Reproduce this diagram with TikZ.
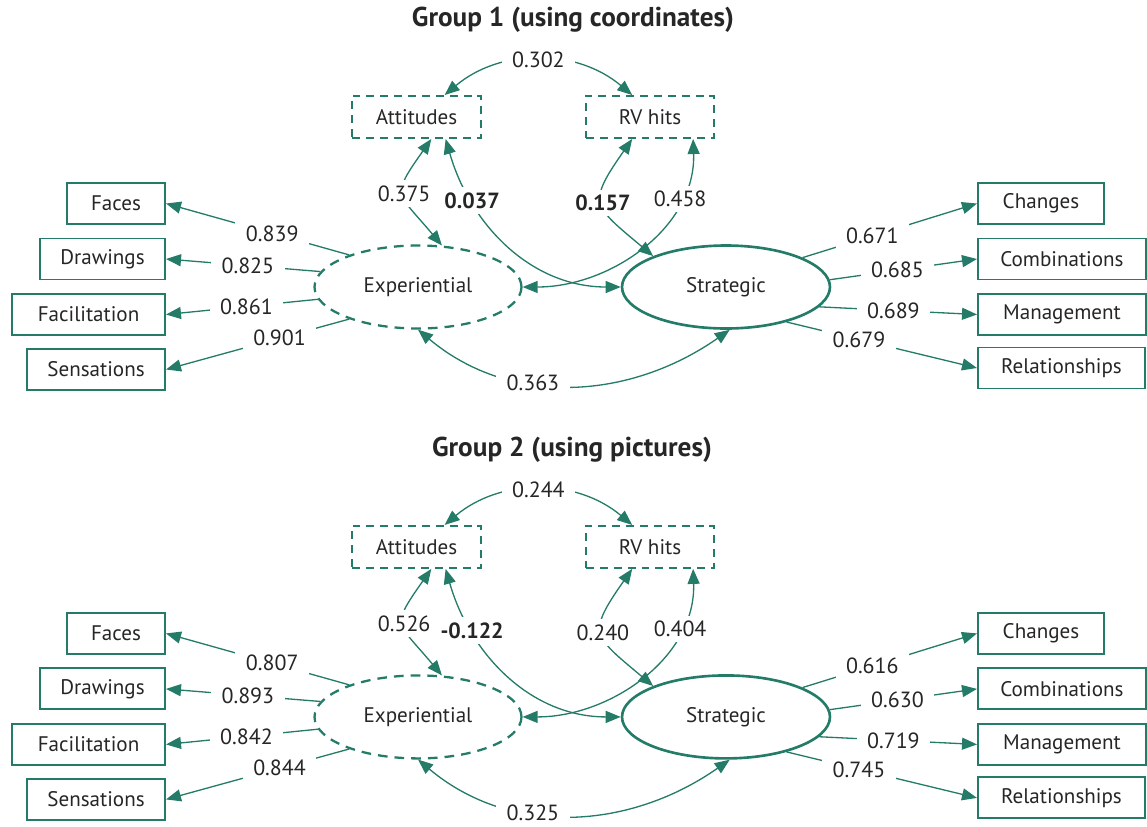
\documentclass[tikz,border=0pt]{standalone}
\usepackage{fontspec}
\setmainfont{PT Sans}
\usepackage{tikz}
\usetikzlibrary{arrows.meta,shapes.geometric}
\definecolor{semgreen}{RGB}{36,124,104}
\definecolor{semtext}{RGB}{38,38,38}
\tikzset{
  grouptitle/.style={
    text=semtext,
    font=\fontsize{15.5}{18}\selectfont\bfseries
  },
  obs/.style={
    draw=semgreen,
    line width=1.1pt,
    minimum height=0.82cm,
    inner sep=0pt,
    text=semtext,
    font=\fontsize{12}{14}\selectfont
  },
  extra/.style={
    obs,
    dash pattern=on 4.5pt off 3.4pt,
    minimum height=0.84cm
  },
  latent/.style={
    ellipse,
    draw=semgreen,
    line width=1.3pt,
    minimum height=1.66cm,
    inner sep=0pt,
    text=semtext,
    font=\fontsize{12}{14}\selectfont
  },
  coef/.style={
    fill=white,
    inner xsep=6pt,
    inner ysep=3pt,
    text=semtext,
    font=\fontsize{12.5}{14}\selectfont
  },
  coefb/.style={
    coef,
    font=\fontsize{12.5}{14}\selectfont\bfseries
  },
  load/.style={-{Triangle[length=0.3cm,width=0.24cm]},draw=semgreen,line width=0.75pt},
  cov/.style={{Triangle[length=0.3cm,width=0.24cm]}-{Triangle[length=0.3cm,width=0.24cm]},draw=semgreen,line width=0.75pt}
}

\begin{document}
\begin{tikzpicture}[x=0.02cm,y=0.02cm]
  \useasboundingbox (0,0) rectangle (1147,-826);

  % group 1
  \node[grouptitle] (title1) at (573,-20) {Group 1 (using coordinates)};
  \node[extra,minimum width=2.58cm] (att1) at (416.5,-117) {Attitudes};
  \node[extra,minimum width=2.56cm] (rv1) at (650,-117) {RV hits};
  \node[latent,dash pattern=on 5.5pt off 4pt,minimum width=4.14cm] (exp1) at (418,-287) {Experiential};
  \node[latent,line width=1.5pt,minimum width=4.16cm] (str1) at (726,-287) {Strategic};
  \node[obs,anchor=east,minimum width=1.96cm] (fac1) at (166,-203.5) {Faces};
  \node[obs,anchor=east,minimum width=2.5cm] (drw1) at (166,-259) {Drawings};
  \node[obs,anchor=east,minimum width=3.06cm] (fcl1) at (166,-314.5) {Facilitation};
  \node[obs,anchor=east,minimum width=2.76cm] (sen1) at (166,-369.5) {Sensations};
  \node[obs,anchor=west,minimum width=2.52cm] (chg1) at (977,-203.5) {Changes};
  \node[obs,anchor=west,minimum width=3.36cm] (cmb1) at (977,-259) {Combinations};
  \node[obs,anchor=west,minimum width=3.36cm] (mgt1) at (977,-314.5) {Management};
  \node[obs,anchor=west,minimum width=3.34cm] (rel1) at (977,-368) {Relationships};

  \draw[load] (exp1.155) -- node[coef,pos=0.42] {0.839} (fac1.east);
  \draw[load] (exp1.171) -- node[coef,pos=0.47] {0.825} (drw1.east);
  \draw[load] (exp1.187) -- node[coef,pos=0.47] {0.861} (fcl1.east);
  \draw[load] (exp1.205) -- node[coef,pos=0.38] {0.901} (sen1.east);
  \draw[load] (str1.21) -- node[coef,pos=0.4] {0.671} (chg1.west);
  \draw[load] (str1.4) -- node[coef,pos=0.46] {0.685} (cmb1.west);
  \draw[load] (str1.-12) -- node[coef,pos=0.47] {0.689} (mgt1.west);
  \draw[load] (str1.-30) -- node[coef,pos=0.38] {0.679} (rel1.west);

  \draw[cov] (att1.38) to[bend left=40] node[coef] {0.302} (rv1.129);
  \draw[cov] (att1.-56) to[out=235,in=130,looseness=1.7] node[coef] {0.375} (exp1.60);
  \draw[cov] (att1.-37) to[out=-74,in=180] node[coefb,pos=0.26] {0.037} (str1.west);
  \draw[cov] (rv1.-129) to[out=235,in=140,looseness=1.7] node[coefb] {0.157} (str1.157);
  \draw[cov] (rv1.-27) to[out=-88,in=0] node[coef,pos=0.25] {0.458} (exp1.east);
  \draw[cov] (exp1.south) to[out=-40,in=-145] node[coef,pos=0.38] {0.363} (str1.-85);

  % group 2
  \begin{scope}[yshift=-8.6cm]
    \node[grouptitle] (title2) at (572,-20) {Group 2 (using pictures)};
    \node[extra,minimum width=2.58cm] (att2) at (416.5,-117) {Attitudes};
    \node[extra,minimum width=2.56cm] (rv2) at (650,-117) {RV hits};
    \node[latent,dash pattern=on 5.5pt off 4pt,minimum width=4.14cm] (exp2) at (418,-287) {Experiential};
    \node[latent,line width=1.5pt,minimum width=4.16cm] (str2) at (726,-287) {Strategic};
    \node[obs,anchor=east,minimum width=1.96cm] (fac2) at (166,-203.5) {Faces};
    \node[obs,anchor=east,minimum width=2.5cm] (drw2) at (166,-259) {Drawings};
    \node[obs,anchor=east,minimum width=3.06cm] (fcl2) at (166,-314.5) {Facilitation};
    \node[obs,anchor=east,minimum width=2.76cm] (sen2) at (166,-369.5) {Sensations};
    \node[obs,anchor=west,minimum width=2.52cm] (chg2) at (977,-203.5) {Changes};
    \node[obs,anchor=west,minimum width=3.36cm] (cmb2) at (977,-259) {Combinations};
    \node[obs,anchor=west,minimum width=3.36cm] (mgt2) at (977,-314.5) {Management};
    \node[obs,anchor=west,minimum width=3.34cm] (rel2) at (977,-368) {Relationships};

    \draw[load] (exp2.155) -- node[coef,pos=0.42] {0.807} (fac2.east);
    \draw[load] (exp2.171) -- node[coef,pos=0.47] {0.893} (drw2.east);
    \draw[load] (exp2.187) -- node[coef,pos=0.47] {0.842} (fcl2.east);
    \draw[load] (exp2.205) -- node[coef,pos=0.38] {0.844} (sen2.east);
    \draw[load] (str2.21) -- node[coef,pos=0.4] {0.616} (chg2.west);
    \draw[load] (str2.4) -- node[coef,pos=0.46] {0.630} (cmb2.west);
    \draw[load] (str2.-12) -- node[coef,pos=0.47] {0.719} (mgt2.west);
    \draw[load] (str2.-30) -- node[coef,pos=0.38] {0.745} (rel2.west);

    \draw[cov] (att2.38) to[bend left=40] node[coef] {0.244} (rv2.129);
    \draw[cov] (att2.-56) to[out=235,in=130,looseness=1.7] node[coef] {0.526} (exp2.60);
    \draw[cov] (att2.-37) to[out=-74,in=180] node[coefb,pos=0.26] {-0.122} (str2.west);
    \draw[cov] (rv2.-129) to[out=235,in=140,looseness=1.7] node[coef] {0.240} (str2.157);
    \draw[cov] (rv2.-27) to[out=-88,in=0] node[coef,pos=0.25] {0.404} (exp2.east);
    \draw[cov] (exp2.south) to[out=-40,in=-145] node[coef,pos=0.38] {0.325} (str2.-85);
  \end{scope}
\end{tikzpicture}
\end{document}
